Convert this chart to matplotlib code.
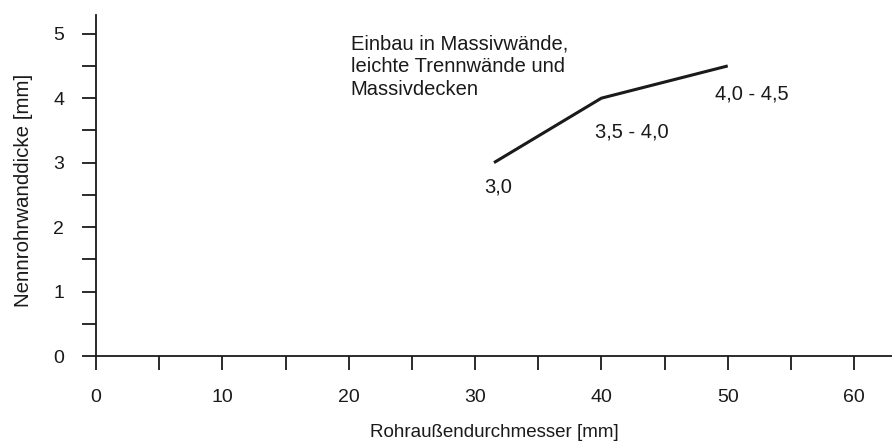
import matplotlib
matplotlib.use("Agg")
import matplotlib.pyplot as plt
from matplotlib.ticker import MultipleLocator

plt.rcParams['font.family'] = ['Liberation Sans', 'DejaVu Sans']

# Data
diameters = [31.5, 40, 50]
thickness = [3.0, 4.0, 4.5]
point_labels = ["3,0", "3,5 - 4,0", "4,0 - 4,5"]
note = "Einbau in Massivwände,\nleichte Trennwände und\nMassivdecken"
xlabel = "Rohraußendurchmesser [mm]"
ylabel = "Nennrohrwanddicke [mm]"

ink = "#1a1a1a"
fig = plt.figure(figsize=(8.92, 4.44), dpi=100)
ax = fig.add_axes([96/892, 88/444, 1 - 96/892, (356-15)/444])
ax.set_xlim(0, 63)
ax.set_ylim(0, 5.29)

ax.plot(diameters, thickness, color=ink, lw=2.2, solid_capstyle='butt', solid_joinstyle='round')

label_pos = [(31.8, 2.62), (42.4, 3.48), (51.9, 4.07)]
for (lx, ly), t in zip(label_pos, point_labels):
    ax.text(lx, ly, t, ha='center', va='center', fontsize=14.5, color=ink)

ax.text(20.16, 4.99, note, ha='left', va='top', fontsize=14.5, color=ink, linespacing=1.24)

for s in ['top', 'right']:
    ax.spines[s].set_visible(False)
for s in ['left', 'bottom']:
    ax.spines[s].set_linewidth(1.3)
    ax.spines[s].set_color(ink)

ax.xaxis.set_major_locator(MultipleLocator(10))
ax.xaxis.set_minor_locator(MultipleLocator(5))
ax.yaxis.set_major_locator(MultipleLocator(1))
ax.yaxis.set_minor_locator(MultipleLocator(0.5))
ax.tick_params(which='both', direction='out', length=10, width=1.3, color=ink)
ax.tick_params(axis='x', which='major', pad=14, labelsize=14, labelcolor=ink)
ax.tick_params(axis='y', which='major', pad=13, labelsize=14, labelcolor=ink)

ax.set_xlabel(xlabel, fontsize=13.5, color=ink)
ax.set_ylabel(ylabel, fontsize=14.8, color=ink)
ax.xaxis.set_label_coords(0.5, -0.2)
ax.yaxis.set_label_coords(-0.079, 0.487)

fig.savefig("out.png", dpi=100)
